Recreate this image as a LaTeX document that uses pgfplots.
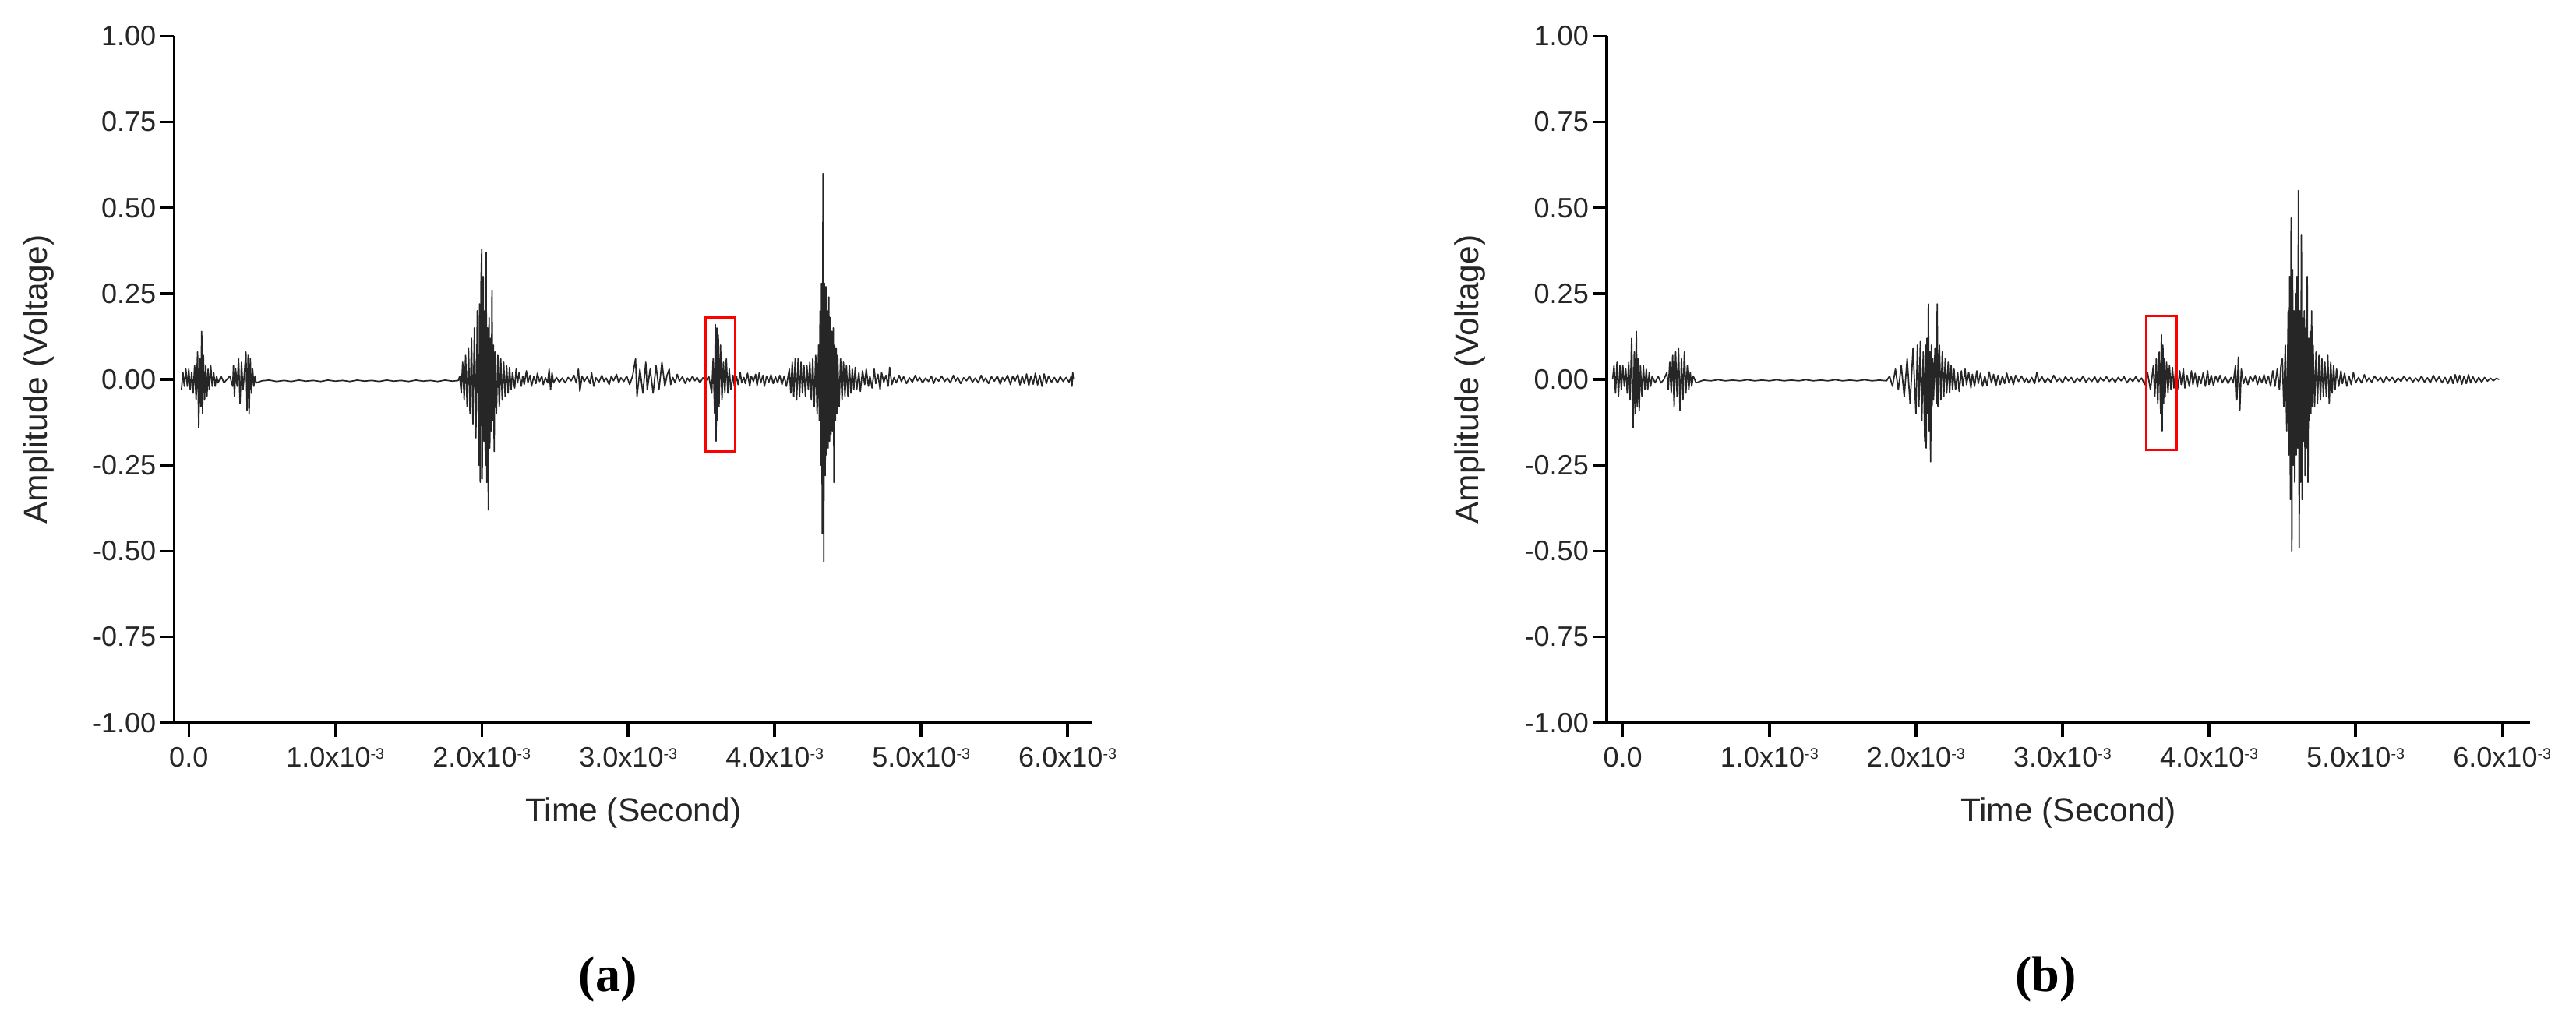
\documentclass[border=0pt]{standalone}
\usepackage{pgfplots}
\pgfplotsset{compat=1.18}
\usepackage{fontspec}
\setmainfont{Liberation Sans}
\newfontfamily\serifbold{Liberation Serif}
\newcommand{\sci}[1]{#1x10\raisebox{0.55ex}{\fontsize{4}{4}\selectfont -3}}
\pgfplotsset{
  wave/.style={
    scale only axis,
    height=6.27cm,
    ymin=-1, ymax=1,
    axis x line*=bottom, axis y line*=left,
    axis line style={line width=0.7pt, black},
    every tick/.style={line width=0.7pt, black},
    tick align=outside,
    major tick length=0.13cm,
    minor tick num=0,
    ytick={-1,-0.75,-0.5,-0.25,0,0.25,0.5,0.75,1},
    yticklabels={-1.00,-0.75,-0.50,-0.25,0.00,0.25,0.50,0.75,1.00},
    xtick={0,1,2,3,4,5,6},
    xticklabels={0.0,\sci{1.0},\sci{2.0},\sci{3.0},\sci{4.0},\sci{5.0},\sci{6.0}},
    tick label style={font=\fontsize{7.3}{8.5}\selectfont, text=black!85},
    yticklabel style={inner xsep=0.8pt},
    xticklabel style={inner ysep=2.5pt},
    xlabel={Time (Second)},
    ylabel={Amplitude (Voltage)},
    every axis x label/.style={at={(axis description cs:0.5,-0.1316)}, anchor=center, font=\fontsize{8.6}{10}\selectfont, text=black!85},
    every axis y label/.style={at={(axis description cs:-0.148,0.5)}, rotate=90, anchor=center, font=\fontsize{8.6}{10}\selectfont, text=black!85},
  },
  sig/.style={black!85, line width=0.35pt, mark=none, line join=round},
}
\begin{document}
\begin{tikzpicture}
\useasboundingbox (0,0) rectangle (23.52,9.3);
% ---------------- (a)
\begin{axis}[wave, at={(1.59cm,2.70cm)}, anchor=south west, width=8.385cm, xmin=-0.1, xmax=6.17]
\addplot[sig] coordinates {
(-0.05,-0.03) (-0.04,0.02) (-0.03,-0.02) (-0.02,0.03) (-0.01,-0.02) (0.00,0.03) (0.01,-0.03) (0.02,0.02) (0.03,-0.04) (0.04,0.04) (0.05,-0.06)
(0.060,0.08) (0.068,-0.14) (0.076,0.06) (0.082,-0.08) (0.088,0.14) (0.094,-0.10) (0.100,0.07) (0.108,-0.06) (0.116,0.04) (0.124,-0.05) (0.132,0.03) (0.140,-0.03) (0.150,0.04) (0.160,-0.02) (0.170,0.02) (0.180,-0.02) (0.190,0.01) (0.200,-0.01) (0.22,0.01) (0.24,-0.01) (0.26,0.00) (0.28,0.01)
(0.300,-0.02) (0.305,0.04) (0.312,-0.05) (0.320,0.03) (0.330,-0.02) (0.340,0.06) (0.350,-0.07) (0.360,0.05) (0.370,-0.03) (0.380,0.02) (0.390,0.08) (0.398,-0.09) (0.405,0.07) (0.412,-0.10) (0.420,0.06) (0.428,-0.04) (0.436,0.03) (0.444,-0.02) (0.452,0.01) (0.46,-0.01)
(0.50,-0.004) (0.55,-0.002) (0.60,-0.006) (0.65,-0.003) (0.70,-0.006) (0.75,-0.002) (0.80,-0.005) (0.85,-0.003) (0.90,-0.006) (0.95,-0.002) (1.00,-0.005) (1.05,-0.003) (1.10,-0.006) (1.15,-0.002) (1.20,-0.005) (1.25,-0.003) (1.30,-0.006) (1.35,-0.002) (1.40,-0.005) (1.45,-0.003) (1.50,-0.006) (1.55,-0.002) (1.60,-0.005) (1.65,-0.003) (1.70,-0.006) (1.75,-0.002) (1.80,-0.005) (1.84,-0.003)
(1.85,0.01) (1.86,-0.04) (1.87,0.05) (1.88,-0.06) (1.89,0.07) (1.90,-0.08) (1.91,0.09) (1.92,-0.10) (1.93,0.12) (1.94,-0.13) (1.95,0.15) (1.96,-0.17) (1.97,0.20) (1.98,-0.25)
(1.985,0.22) (1.990,-0.30) (1.995,0.28) (2.000,0.38) (2.003,-0.29) (2.010,0.30) (2.015,-0.18) (2.020,0.20) (2.025,-0.25) (2.030,0.37) (2.035,-0.30) (2.040,0.15) (2.045,-0.38) (2.050,0.18) (2.055,-0.20) (2.060,0.12) (2.065,-0.15) (2.070,0.26) (2.075,-0.12) (2.080,0.10) (2.085,-0.21) (2.090,0.08)
(2.10,-0.10) (2.11,0.07) (2.12,-0.08) (2.13,0.06) (2.14,-0.06) (2.15,0.05) (2.16,-0.05) (2.17,0.04) (2.18,-0.04) (2.19,0.035)
(2.20,-0.03) (2.21,0.02) (2.225,-0.025) (2.235,0.03) (2.245,-0.01) (2.255,0.02) (2.27,-0.02) (2.28,0.01) (2.29,-0.015) (2.305,0.025) (2.315,-0.01) (2.33,0.012) (2.34,-0.02) (2.355,0.008) (2.37,-0.012) (2.38,0.018) (2.395,-0.006) (2.41,0.01) (2.42,-0.015) (2.435,0.005) (2.45,-0.01) (2.46,0.03) (2.47,-0.03) (2.48,0.02) (2.49,-0.01) (2.51,0.006) (2.53,-0.008) (2.55,0.004) (2.57,-0.01) (2.59,0.006) (2.61,-0.004) (2.63,0.012) (2.645,-0.01) (2.66,0.03) (2.67,-0.035) (2.685,0.01) (2.70,-0.006) (2.72,0.008) (2.74,-0.012) (2.75,0.02) (2.765,-0.02) (2.78,0.005) (2.80,-0.008) (2.82,0.012) (2.835,-0.006) (2.85,0.004) (2.87,-0.015) (2.885,0.01) (2.90,-0.004) (2.92,0.015) (2.935,-0.01) (2.95,0.005) (2.97,-0.006) (2.99,0.01) (3.01,-0.015) (3.03,0.01)
(3.05,0.06) (3.06,-0.05) (3.08,0.03) (3.10,-0.04) (3.12,0.05) (3.13,-0.03) (3.15,0.03) (3.17,-0.04) (3.19,0.04) (3.21,-0.03) (3.23,0.05)
(3.25,-0.02) (3.265,0.012) (3.28,0.03) (3.29,-0.015) (3.305,0.006) (3.32,-0.01) (3.335,0.015) (3.35,-0.005) (3.37,0.008) (3.39,-0.012) (3.405,0.004) (3.42,-0.006) (3.44,0.01) (3.455,-0.004) (3.47,0.006) (3.49,-0.01) (3.51,0.005) (3.53,-0.006) (3.55,0.01)
(3.57,-0.04) (3.58,0.06) (3.590,-0.10) (3.595,0.16) (3.600,-0.18) (3.605,0.15) (3.610,-0.12) (3.615,0.13) (3.620,-0.08) (3.630,0.10) (3.640,-0.06) (3.650,0.05) (3.660,-0.04) (3.670,0.06) (3.680,-0.04)
(3.69,0.03) (3.70,-0.03) (3.715,0.012) (3.725,-0.02) (3.74,0.008) (3.75,-0.015) (3.765,0.02) (3.775,-0.01) (3.79,0.006) (3.80,-0.012) (3.815,0.018) (3.83,-0.02) (3.84,0.01) (3.855,-0.006) (3.87,0.015) (3.88,-0.018) (3.895,0.02) (3.905,-0.01) (3.92,0.012) (3.93,-0.02) (3.945,0.01) (3.96,-0.008) (3.975,0.014) (3.99,-0.012) (4.005,0.008) (4.02,-0.01) (4.035,0.012) (4.05,-0.015) (4.065,0.01)
(4.08,-0.02) (4.10,0.03) (4.11,-0.04) (4.12,0.05) (4.13,-0.05) (4.14,0.06) (4.15,-0.06) (4.16,0.06) (4.17,-0.05) (4.18,0.05) (4.19,-0.04) (4.20,0.04) (4.21,-0.05) (4.22,0.04) (4.23,-0.03) (4.24,0.05) (4.25,-0.06) (4.26,0.06) (4.27,-0.08) (4.28,0.07) (4.29,-0.10)
(4.300,0.10) (4.305,-0.12) (4.310,0.20) (4.315,-0.25) (4.320,0.28) (4.325,-0.45) (4.330,0.60) (4.335,-0.53) (4.340,0.28) (4.345,-0.28) (4.350,0.27) (4.355,-0.22) (4.360,0.20) (4.365,-0.20) (4.370,0.24) (4.375,-0.18) (4.380,0.18) (4.385,-0.16) (4.390,0.14) (4.395,-0.15) (4.400,0.15) (4.405,-0.30) (4.410,0.10) (4.415,-0.12) (4.420,0.09) (4.425,-0.10)
(4.43,0.07) (4.44,-0.08) (4.45,0.06) (4.46,-0.06) (4.47,0.05) (4.48,-0.05) (4.49,0.04) (4.50,-0.05) (4.51,0.04) (4.52,-0.04) (4.53,0.03) (4.54,-0.03)
(4.55,0.035) (4.56,-0.03) (4.575,0.02) (4.585,-0.035) (4.60,0.025) (4.615,-0.015) (4.625,0.03) (4.64,-0.02) (4.65,0.01) (4.665,-0.025) (4.68,0.03) (4.69,-0.012) (4.705,0.015) (4.72,-0.03) (4.73,0.02) (4.745,-0.008) (4.76,0.012) (4.775,-0.02) (4.785,0.035) (4.80,-0.015) (4.815,0.006) (4.83,-0.01) (4.85,0.012) (4.865,-0.006) (4.88,0.008) (4.90,-0.012) (4.92,0.005) (4.94,-0.008) (4.96,0.012) (4.975,-0.004) (4.99,0.006)
(5.01,-0.01) (5.03,0.004) (5.05,-0.006) (5.07,0.01) (5.085,-0.012) (5.10,0.004) (5.12,-0.005) (5.14,0.01) (5.16,-0.006) (5.18,0.004) (5.20,-0.01) (5.22,0.012) (5.235,-0.005) (5.25,0.006) (5.27,-0.012) (5.29,0.005) (5.31,-0.004) (5.33,0.01) (5.35,-0.008) (5.37,0.004) (5.39,-0.01) (5.41,0.012) (5.425,-0.006) (5.44,0.004) (5.46,-0.012) (5.48,0.008) (5.50,-0.005) (5.52,0.01) (5.54,-0.014) (5.555,0.006) (5.57,-0.005) (5.59,0.012) (5.61,-0.015) (5.625,0.01) (5.64,-0.006) (5.66,0.014) (5.675,-0.016) (5.69,0.01) (5.705,-0.012) (5.72,0.016) (5.735,-0.018) (5.75,0.01) (5.765,-0.014) (5.78,0.018) (5.795,-0.016) (5.81,0.012) (5.825,-0.02) (5.84,0.016) (5.855,-0.012) (5.87,0.01) (5.89,-0.008) (5.91,0.006) (5.93,-0.01) (5.95,0.008) (5.97,-0.006) (5.99,0.006) (6.01,-0.008) (6.025,0.01) (6.03,-0.02) (6.035,0.02) (6.04,0.0)
};
\draw[red, line width=0.6pt] (axis cs:3.53,-0.21) rectangle (axis cs:3.73,0.18);
\end{axis}
% ---------------- (b)
\begin{axis}[wave, at={(14.67cm,2.70cm)}, anchor=south west, width=8.43cm, xmin=-0.11, xmax=6.19]
\addplot[sig] coordinates {
(-0.07,0.00) (-0.06,0.04) (-0.05,-0.04) (-0.04,0.05) (-0.03,-0.05) (-0.02,0.04) (-0.01,-0.03) (0.00,0.04) (0.01,-0.02) (0.02,0.03) (0.03,-0.04) (0.04,0.05) (0.05,-0.06)
(0.060,0.12) (0.070,-0.14) (0.078,0.08) (0.085,-0.10) (0.092,0.14) (0.098,-0.08) (0.105,0.06) (0.112,-0.09) (0.120,0.04) (0.13,-0.05) (0.14,0.04) (0.15,-0.03) (0.16,0.03) (0.17,-0.03) (0.18,0.02) (0.19,-0.02) (0.20,0.01) (0.22,-0.01) (0.24,0.01) (0.26,-0.01) (0.28,0.00)
(0.30,0.02) (0.31,-0.03) (0.32,0.05) (0.33,-0.04) (0.34,0.07) (0.350,-0.08) (0.360,0.08) (0.370,-0.05) (0.380,0.09) (0.390,-0.09) (0.400,0.06) (0.410,-0.06) (0.420,0.08) (0.430,-0.04) (0.440,0.04) (0.450,-0.03) (0.460,0.02) (0.47,-0.02) (0.48,0.01) (0.50,-0.01)
(0.55,-0.002) (0.60,-0.004) (0.65,-0.001) (0.70,-0.004) (0.75,-0.002) (0.80,-0.004) (0.85,-0.001) (0.90,-0.004) (0.95,-0.002) (1.00,-0.004) (1.05,-0.001) (1.10,-0.004) (1.15,-0.002) (1.20,-0.004) (1.25,-0.001) (1.30,-0.004) (1.35,-0.002) (1.40,-0.004) (1.45,-0.001) (1.50,-0.004) (1.55,-0.002) (1.60,-0.004) (1.65,-0.001) (1.70,-0.004) (1.75,-0.002) (1.80,-0.004)
(1.82,0.01) (1.84,-0.02) (1.86,0.03) (1.88,-0.03) (1.90,0.04) (1.92,-0.05) (1.94,0.06) (1.96,-0.07) (1.98,0.09) (2.00,-0.10) (2.01,0.10) (2.02,-0.08) (2.03,0.11) (2.04,-0.12)
(2.050,0.08) (2.060,-0.18) (2.065,0.10) (2.070,-0.20) (2.075,0.12) (2.080,-0.10) (2.085,0.22) (2.090,-0.15) (2.095,0.08) (2.100,-0.24) (2.105,0.10) (2.110,-0.08) (2.115,0.06) (2.120,-0.06) (2.130,0.09) (2.140,-0.07) (2.145,0.22) (2.150,-0.08) (2.160,0.10) (2.170,-0.06) (2.180,0.08)
(2.19,-0.05) (2.20,0.06) (2.21,-0.04) (2.22,0.05) (2.23,-0.04) (2.24,0.04) (2.25,-0.03)
(2.26,0.03) (2.27,-0.03) (2.285,0.02) (2.295,-0.035) (2.31,0.025) (2.32,-0.02) (2.335,0.03) (2.345,-0.015) (2.36,0.02) (2.375,-0.025) (2.385,0.015) (2.40,-0.02) (2.415,0.025) (2.425,-0.012) (2.44,0.018) (2.455,-0.02) (2.47,0.01) (2.485,-0.018) (2.50,0.022) (2.515,-0.01) (2.53,0.015) (2.545,-0.02) (2.56,0.012) (2.575,-0.015) (2.59,0.01) (2.605,-0.012) (2.62,0.018) (2.635,-0.01) (2.65,0.008) (2.665,-0.015) (2.68,0.012) (2.70,-0.006) (2.72,0.01) (2.74,-0.008) (2.755,0.004) (2.77,-0.01) (2.79,0.006) (2.81,-0.012) (2.825,0.02) (2.84,-0.006) (2.86,0.008) (2.88,-0.01) (2.90,0.004) (2.92,-0.008) (2.94,0.012) (2.96,-0.006) (2.98,0.004) (3.00,-0.01) (3.02,0.008) (3.04,-0.004) (3.06,0.006) (3.08,-0.01) (3.10,0.004) (3.12,-0.006) (3.14,0.01) (3.16,-0.008) (3.18,0.004) (3.20,-0.006) (3.22,0.008) (3.24,-0.01) (3.26,0.006) (3.28,-0.004) (3.30,0.008) (3.32,-0.006) (3.34,0.004) (3.36,-0.008) (3.38,0.006) (3.40,-0.004) (3.42,0.008) (3.44,-0.01) (3.46,0.004) (3.48,-0.006) (3.50,0.008) (3.52,-0.006) (3.54,0.004) (3.56,-0.015)
(3.58,0.02) (3.60,-0.03) (3.62,0.04) (3.63,-0.05) (3.64,0.06) (3.65,-0.07) (3.66,0.08)
(3.670,-0.10) (3.675,0.13) (3.680,-0.15) (3.685,0.10) (3.690,-0.07) (3.695,0.06)
(3.70,-0.05) (3.71,0.05) (3.72,-0.04) (3.73,0.04) (3.74,-0.03) (3.75,0.035) (3.76,-0.025) (3.77,0.02) (3.785,-0.03) (3.80,0.025) (3.81,-0.015) (3.825,0.03) (3.835,-0.025) (3.85,0.012) (3.865,-0.02) (3.88,0.025) (3.89,-0.015) (3.905,0.018) (3.92,-0.022) (3.93,0.01) (3.945,-0.012) (3.96,0.02) (3.975,-0.02) (3.99,0.025) (4.00,-0.015) (4.015,0.012) (4.03,-0.018) (4.045,0.01) (4.06,-0.008) (4.075,0.012) (4.09,-0.01) (4.11,0.008) (4.13,-0.012) (4.15,0.006) (4.165,-0.01) (4.18,0.04) (4.19,-0.06) (4.20,0.065) (4.21,-0.09) (4.22,0.03) (4.235,-0.012) (4.25,0.008) (4.265,-0.015) (4.28,0.01) (4.30,-0.006) (4.315,0.012) (4.33,-0.015) (4.345,0.008) (4.36,-0.01) (4.375,0.014) (4.39,-0.012) (4.405,0.01) (4.42,-0.02) (4.435,0.025) (4.45,-0.02) (4.465,0.03) (4.48,-0.03) (4.49,0.04)
(4.50,0.06) (4.51,-0.08) (4.52,0.10) (4.53,-0.15) (4.540,0.20) (4.545,-0.22) (4.550,0.30) (4.555,-0.35) (4.560,0.47) (4.565,-0.50) (4.570,0.32) (4.575,-0.25) (4.580,0.20) (4.585,-0.30) (4.590,0.25) (4.595,-0.22) (4.600,0.30) (4.605,-0.20) (4.610,0.55) (4.615,-0.49) (4.620,0.20) (4.625,-0.30) (4.630,0.42) (4.635,-0.35) (4.640,0.18) (4.645,-0.18) (4.650,0.20) (4.655,-0.28) (4.660,0.15) (4.665,-0.20) (4.670,0.30) (4.675,-0.30) (4.680,0.12) (4.685,-0.12) (4.690,0.14) (4.695,-0.10) (4.700,0.20) (4.705,-0.08) (4.710,0.10)
(4.72,-0.08) (4.73,0.08) (4.74,-0.07) (4.75,0.07) (4.76,-0.06) (4.77,0.06) (4.78,-0.05) (4.79,0.05) (4.80,-0.05) (4.81,0.07) (4.82,-0.07) (4.83,0.05) (4.84,-0.04) (4.85,0.04)
(4.86,-0.03) (4.87,0.03) (4.885,-0.02) (4.90,0.025) (4.91,-0.012) (4.925,0.018) (4.94,-0.02) (4.955,0.01) (4.97,-0.015) (4.985,0.02) (5.00,-0.01) (5.02,0.006) (5.04,-0.01) (5.06,0.014) (5.075,-0.006) (5.09,0.004) (5.11,-0.008) (5.13,0.01) (5.15,-0.004) (5.17,0.006) (5.19,-0.01) (5.21,0.008) (5.23,-0.004) (5.25,0.006) (5.27,-0.008) (5.29,0.004) (5.31,-0.006) (5.33,0.01) (5.35,-0.004) (5.37,0.006) (5.39,-0.008) (5.41,0.004) (5.43,-0.006) (5.45,0.01) (5.47,-0.008) (5.49,0.005) (5.51,-0.01) (5.53,0.012) (5.55,-0.006) (5.57,0.008) (5.59,-0.01) (5.61,0.006) (5.63,-0.012) (5.65,0.01) (5.665,-0.012) (5.68,0.014) (5.695,-0.01) (5.71,0.012) (5.725,-0.014) (5.74,0.01) (5.755,-0.012) (5.77,0.014) (5.785,-0.01) (5.80,0.008) (5.82,-0.01) (5.84,0.006) (5.86,-0.008) (5.88,0.006) (5.90,-0.005) (5.92,0.004) (5.94,-0.004) (5.96,0.003) (5.98,0.00)
};
\draw[red, line width=0.6pt] (axis cs:3.57,-0.205) rectangle (axis cs:3.78,0.184);
\end{axis}
\node[font=\serifbold\bfseries\fontsize{13}{15}\selectfont] at (5.55,0.36) {(a)};
\node[font=\serifbold\bfseries\fontsize{13}{15}\selectfont] at (18.68,0.36) {(b)};
\end{tikzpicture}
\end{document}
